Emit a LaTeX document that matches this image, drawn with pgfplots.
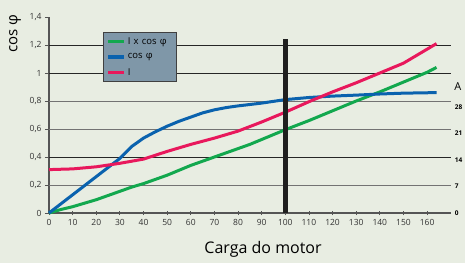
\documentclass[border=0pt]{standalone}
\usepackage{pgfplots}
\pgfplotsset{compat=1.18}
\usepackage{fontspec}
\setmainfont{Open Sans}
\definecolor{bg}{HTML}{E8EDE2}
\definecolor{cgreen}{HTML}{12A84E}
\definecolor{cblue}{HTML}{0A62AE}
\definecolor{cred}{HTML}{E8185C}
\definecolor{legfill}{HTML}{7F97A8}
\definecolor{axgray}{HTML}{555555}
\begin{document}
\begin{tikzpicture}
\fill[bg] (-49pt,-50pt) rectangle (416pt,213pt);
\begin{scope}
\clip (-49pt,-50pt) rectangle (416pt,213pt);
\begin{axis}[
  at={(0,0)}, anchor=south west,
  scale only axis, width=401.7pt, height=196pt,
  xmin=0, xmax=170, ymin=0, ymax=1.4,
  axis lines=left, axis line style={-, axgray, line width=1.2pt},
  xtick={0,10,...,160}, ytick={0,0.2,...,1.4},
  x tick style={axgray, line width=0.8pt}, y tick style={axgray, line width=0.8pt},
  xtick align=center, ytick align=outside,
  major tick length=4pt,
  tick label style={font=\fontsize{8.5}{10}\selectfont, text=black!80},
  xticklabel style={yshift=-1pt},
  /pgf/number format/use comma,
  /pgf/number format/assume math mode=true,
  yticklabel style={/pgf/number format/fixed},
  legend style={at={(axis cs:22.85,1.293)}, anchor=north west,
    fill=legfill, draw=black!75, line width=0.8pt,
    font=\fontsize{9.5}{10}\selectfont, row sep=4pt, inner xsep=3pt, inner ysep=3pt,
    text width=44pt},
  legend cell align=left,
  legend image code/.code={\draw[#1, line width=3.5pt] (0pt,0pt) -- (16pt,0pt);},
  clip=false,
]
% grid lines
\draw[black!85, line width=0.6pt] (axis cs:0,1.2) -- (axis cs:170,1.2);
\draw[black!85, line width=0.6pt] (axis cs:0,1.0) -- (axis cs:170,1.0);
\draw[black!55, line width=1.0pt] (axis cs:0,0.8) -- (axis cs:170,0.8);
\draw[black!55, line width=1.0pt] (axis cs:0,0.6) -- (axis cs:170,0.6);
\draw[black!85, line width=0.6pt] (axis cs:0,0.4) -- (axis cs:170,0.4);
\draw[black!55, line width=1.0pt] (axis cs:0,0.2) -- (axis cs:170,0.2);

\addplot[cgreen, line width=3pt] coordinates {
(0,0)(5,0.025)(10,0.045)(15,0.07)(20,0.095)(25,0.125)(30,0.155)(35,0.185)(40,0.21)(45,0.24)(50,0.27)(55,0.305)(60,0.34)(65,0.37)(70,0.40)(75,0.43)(80,0.46)(85,0.49)(90,0.525)(95,0.56)(100,0.595)(110,0.66)(120,0.73)(130,0.80)(140,0.865)(150,0.935)(160,1.005)(164,1.04)};
\addlegendentry{I x cos φ}
\addplot[cblue, line width=3pt] coordinates {
(0,0)(10,0.13)(20,0.26)(30,0.39)(35,0.475)(40,0.535)(45,0.58)(50,0.62)(55,0.655)(60,0.685)(65,0.715)(70,0.737)(75,0.753)(80,0.765)(90,0.785)(100,0.81)(110,0.825)(120,0.835)(130,0.842)(140,0.85)(150,0.856)(164,0.86)};
\addlegendentry{cos φ}
\addplot[cred, line width=3pt] coordinates {
(0,0.31)(10,0.315)(20,0.33)(30,0.355)(40,0.385)(50,0.44)(60,0.49)(70,0.535)(80,0.585)(90,0.65)(100,0.72)(110,0.795)(120,0.865)(130,0.93)(140,1.0)(150,1.07)(164,1.21)};
\addlegendentry{I}
\addplot[black!88, line width=5pt, forget plot] coordinates {(100,0)(100,1.24)};

% labels
\node[rotate=90, font=\fontsize{15}{17}\selectfont] at (axis cs:-14.4,1.28) {cos φ};
\node[font=\fontsize{16}{18}\selectfont] at (axis cs:90.6,-0.262) {Carga do motor};
\node[anchor=west, font=\fontsize{11}{13}\selectfont, inner sep=0pt] at (axis cs:171.5,0.9) {A};
\node[anchor=west, font=\bfseries\fontsize{6.5}{8}\selectfont, inner sep=0pt] at (axis cs:171.7,0.757) {28};
\node[anchor=west, font=\bfseries\fontsize{6.5}{8}\selectfont, inner sep=0pt] at (axis cs:171.7,0.567) {21};
\node[anchor=west, font=\bfseries\fontsize{6.5}{8}\selectfont, inner sep=0pt] at (axis cs:171.7,0.379) {14};
\node[anchor=west, font=\bfseries\fontsize{6.5}{8}\selectfont, inner sep=0pt] at (axis cs:171.7,0.19) {7};
\node[anchor=west, font=\bfseries\fontsize{6.5}{8}\selectfont, inner sep=0pt] at (axis cs:171.7,0) {0};
\end{axis}
\end{scope}
\pgfresetboundingbox
\useasboundingbox (-49pt,-50pt) rectangle (416pt,213pt);
\end{tikzpicture}
\end{document}
